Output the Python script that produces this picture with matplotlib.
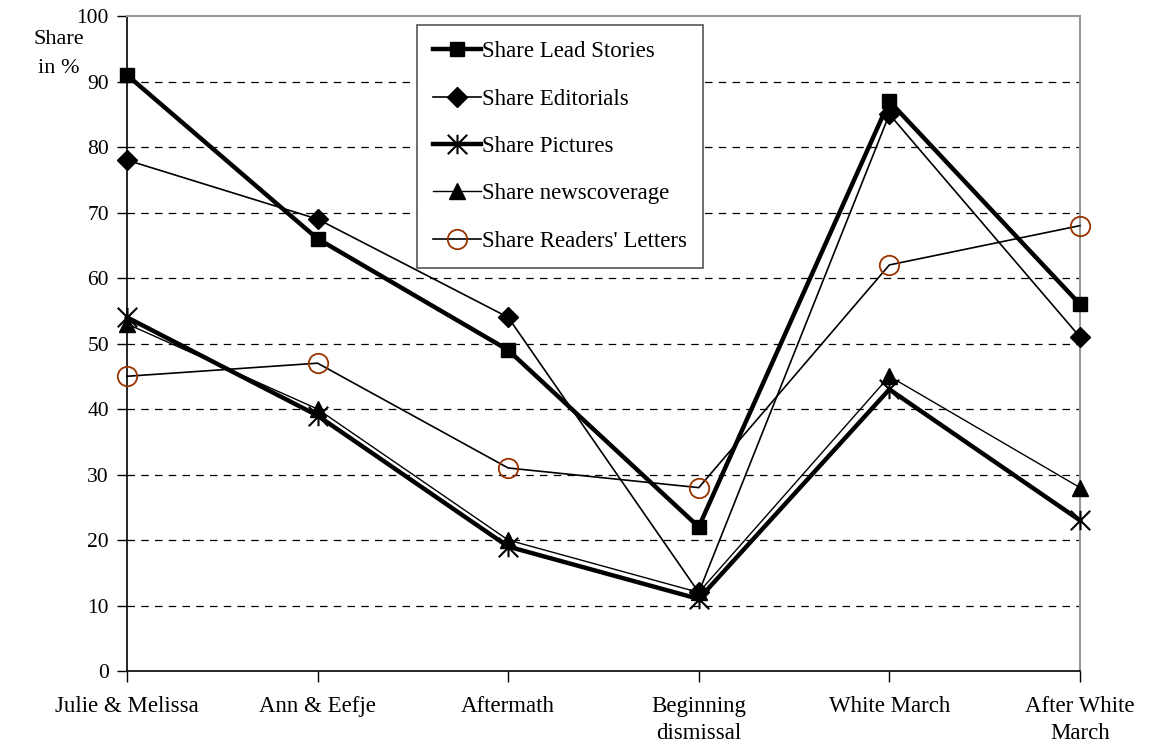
import matplotlib
matplotlib.use("Agg")
import numpy as np
from matplotlib import pyplot as plt
from matplotlib.path import Path

phases = ["Julie & Melissa", "Ann & Eefje", "Aftermath", "Beginning\ndismissal",
          "White March", "After White\nMarch"]
lead_stories = [91, 66, 49, 22, 87, 56]
editorials = [78, 69, 54, 12, 85, 51]
pictures = [54, 39, 19, 11, 43, 23]
newscoverage = [53, 40, 20, 12, 45, 28]
readers_letters = [45, 47, 31, 28, 62, 68]

plt.rcParams['font.family'] = ['Liberation Serif', 'DejaVu Serif']
plt.rcParams['font.size'] = 15

# asterisk marker: x with a vertical stroke
star = Path([(-1, -1), (1, 1), (-1, 1), (1, -1), (0, -1), (0, 1)],
            [Path.MOVETO, Path.LINETO, Path.MOVETO, Path.LINETO, Path.MOVETO, Path.LINETO])

fig = plt.figure(figsize=(11.5, 7.49), dpi=100)
ax = fig.add_axes([0.1104, 0.1041, 0.8287, 0.8745])

x = np.arange(len(phases))

ax.plot(x, editorials, color='black', linewidth=1.2, marker='D', markersize=10,
        label='Share Editorials', zorder=3, clip_on=False)
ax.plot(x, newscoverage, color='black', linewidth=1.0, marker='^', markersize=12,
        label='Share newscoverage', zorder=3, clip_on=False)
ax.plot(x, readers_letters, color='black', linewidth=1.2, marker='o', markersize=14,
        markerfacecolor='none', markeredgecolor='#993300', markeredgewidth=1.3,
        label="Share Readers' Letters", zorder=3, clip_on=False)
ax.plot(x, pictures, color='black', linewidth=3.2, marker=star, markersize=14,
        markeredgewidth=1.5, label='Share Pictures', zorder=4, clip_on=False)
ax.plot(x, lead_stories, color='black', linewidth=3.2, marker='s', markersize=10,
        label='Share Lead Stories', zorder=4, clip_on=False)

ax.set_xlim(0, 5)
ax.set_ylim(0, 100)
ax.set_yticks(np.arange(0, 101, 10))
ax.set_xticks(x)
ax.set_xticklabels(phases, fontsize=16.5, linespacing=1.4)
ax.tick_params(axis='x', direction='out', length=8, width=1, pad=10)
ax.tick_params(axis='y', direction='out', length=7, width=1, pad=6, labelsize=15.5)

for v in range(10, 100, 10):
    ax.axhline(v, color='black', linewidth=0.9, linestyle=(0, (6, 5)), zorder=1)

ax.spines['left'].set_color('black')
ax.spines['bottom'].set_color('black')
ax.spines['left'].set_linewidth(1.2)
ax.spines['bottom'].set_linewidth(1.2)
ax.spines['top'].set_color('#999999')
ax.spines['right'].set_color('#999999')
ax.spines['top'].set_linewidth(1.5)
ax.spines['right'].set_linewidth(1.5)

handles, labels = ax.get_legend_handles_labels()
order = [4, 0, 3, 1, 2]
leg = ax.legend([handles[i] for i in order], [labels[i] for i in order],
                loc='upper left', bbox_to_anchor=(0.304, 0.986), borderaxespad=0,
                fancybox=False, edgecolor='#555555', framealpha=1,
                handlelength=2.1, handletextpad=0.05, labelspacing=1.15,
                borderpad=0.7, fontsize=16.5)
leg.get_frame().set_linewidth(1.2)

fig.text(0.051, 0.960, "Share\nin %", ha='center', va='top', fontsize=16,
         linespacing=1.75)

plt.savefig('out.png', dpi=100)
